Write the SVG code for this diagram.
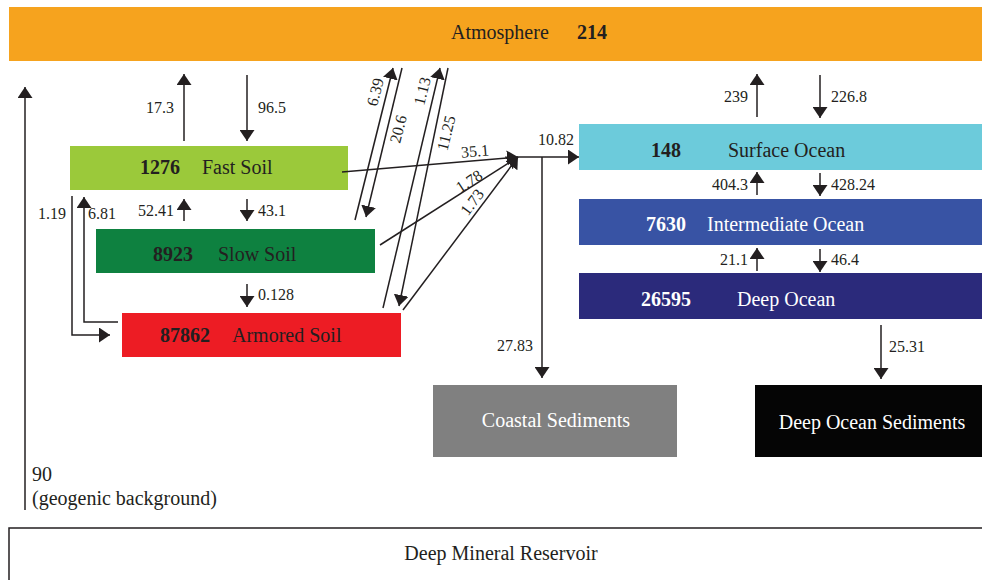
<svg xmlns="http://www.w3.org/2000/svg" width="982" height="580" viewBox="0 0 982 580">
  <defs>
    <marker id="head" viewBox="0 0 11 15" markerUnits="userSpaceOnUse" markerWidth="11" markerHeight="15" refX="11" refY="7.5" orient="auto">
      <path d="M0,0 L11,7.5 L0,15 z" fill="#231F20"/>
    </marker>
    <style>
      text { font-family: "Liberation Serif", "Times New Roman", serif; fill: #231F20; }
      .box { font-size: 20px; }
      .bold { font-weight: bold; }
      .white { fill: #FFFFFF; }
      .num { font-size: 16px; }
      .flow { stroke: #231F20; stroke-width: 1.5; fill: none; }
      .arrow { marker-end: url(#head); }
    </style>
  </defs>
  <rect width="982" height="580" fill="#FFFFFF"/>

  <g id="atmosphere">
    <rect x="9" y="7" width="973" height="54" fill="#F6A31E"/>
    <text class="box" x="451" y="39">Atmosphere</text>
    <text class="box bold" x="577" y="39">214</text>
  </g>

  <g id="fast-soil">
    <rect x="70" y="146" width="278" height="44" fill="#9BC93A"/>
    <text class="box bold" x="140" y="174">1276</text>
    <text class="box" x="202" y="174">Fast Soil</text>
  </g>

  <g id="slow-soil">
    <rect x="96" y="229" width="279" height="44" fill="#0E8140"/>
    <text class="box bold" x="153" y="261">8923</text>
    <text class="box" x="218" y="261">Slow Soil</text>
  </g>

  <g id="armored-soil">
    <rect x="122" y="313" width="279" height="44" fill="#ED1C24"/>
    <text class="box bold" x="160" y="342">87862</text>
    <text class="box" x="232" y="342">Armored Soil</text>
  </g>

  <g id="surface-ocean">
    <rect x="579" y="124" width="403" height="46" fill="#6CCBDB"/>
    <text class="box bold" x="651" y="157">148</text>
    <text class="box" x="728" y="157">Surface Ocean</text>
  </g>

  <g id="intermediate-ocean">
    <rect x="579" y="199" width="403" height="46" fill="#3853A4"/>
    <text class="box bold white" x="646" y="231">7630</text>
    <text class="box white" x="707" y="231">Intermediate Ocean</text>
  </g>

  <g id="deep-ocean">
    <rect x="579" y="273" width="403" height="46" fill="#2B2A7B"/>
    <text class="box bold white" x="641" y="306">26595</text>
    <text class="box white" x="737" y="306">Deep Ocean</text>
  </g>

  <g id="coastal-sediments">
    <rect x="433" y="385" width="244" height="72" fill="#808080"/>
    <text class="box white" x="556" y="427" text-anchor="middle">Coastal Sediments</text>
  </g>

  <g id="deep-ocean-sediments">
    <rect x="755" y="385" width="227" height="72" fill="#050505"/>
    <text class="box white" x="872" y="429" text-anchor="middle">Deep Ocean Sediments</text>
  </g>

  <g id="deep-mineral-reservoir">
    <rect x="9" y="528" width="990" height="70" fill="none" stroke="#231F20" stroke-width="1.5"/>
    <text class="box" x="501" y="560" text-anchor="middle">Deep Mineral Reservoir</text>
  </g>

  <g id="connectors">
    <!-- geogenic input -->
    <line class="flow arrow" x1="25" y1="510" x2="25" y2="87"/>
    <!-- fast soil / atmosphere -->
    <line class="flow arrow" x1="184" y1="141" x2="184" y2="74"/>
    <line class="flow arrow" x1="247" y1="75" x2="247" y2="141"/>
    <!-- fast soil / slow soil -->
    <line class="flow arrow" x1="184" y1="221" x2="184" y2="199"/>
    <line class="flow arrow" x1="247" y1="199" x2="247" y2="221"/>
    <!-- slow soil to armored soil -->
    <line class="flow arrow" x1="247" y1="284" x2="247" y2="307"/>
    <!-- fast soil / armored soil loop -->
    <polyline class="flow arrow" points="72,196 72,335 110,335"/>
    <polyline class="flow arrow" points="118,322 84,322 84,197"/>
    <!-- slow soil / atmosphere -->
    <line class="flow arrow" x1="355" y1="220" x2="393" y2="68"/>
    <line class="flow arrow" x1="402" y1="68" x2="366" y2="217"/>
    <!-- armored soil / atmosphere -->
    <line class="flow arrow" x1="383" y1="308" x2="440" y2="68"/>
    <line class="flow arrow" x1="448" y1="68" x2="399" y2="306"/>
    <!-- soil runoff to the river junction -->
    <line class="flow arrow" x1="342" y1="172" x2="518" y2="157"/>
    <line class="flow arrow" x1="380" y1="245" x2="518" y2="157"/>
    <line class="flow arrow" x1="403" y1="310" x2="518" y2="157"/>
    <line class="flow arrow" x1="518" y1="157" x2="579" y2="157"/>
    <line class="flow arrow" x1="542" y1="157" x2="542" y2="378"/>
    <!-- ocean exchanges -->
    <line class="flow arrow" x1="757" y1="117" x2="757" y2="74"/>
    <line class="flow arrow" x1="820" y1="75" x2="820" y2="118"/>
    <line class="flow arrow" x1="757" y1="195" x2="757" y2="172"/>
    <line class="flow arrow" x1="820" y1="173" x2="820" y2="196"/>
    <line class="flow arrow" x1="757" y1="271" x2="757" y2="248"/>
    <line class="flow arrow" x1="820" y1="249" x2="820" y2="272"/>
    <line class="flow arrow" x1="881" y1="325" x2="881" y2="379"/>
  </g>

  <g id="flow-labels" class="num">
    <text x="174" y="113" text-anchor="end">17.3</text>
    <text x="258" y="113">96.5</text>
    <text x="174" y="216" text-anchor="end">52.41</text>
    <text x="258" y="216">43.1</text>
    <text x="258" y="300">0.128</text>
    <text x="66" y="219" text-anchor="end">1.19</text>
    <text x="88" y="219">6.81</text>
    <text transform="translate(375,92) rotate(-76)" text-anchor="middle" dy="0.35em">6.39</text>
    <text transform="translate(398,129) rotate(-76)" text-anchor="middle" dy="0.35em">20.6</text>
    <text transform="translate(422,91) rotate(-76)" text-anchor="middle" dy="0.35em">1.13</text>
    <text transform="translate(446,133) rotate(-76)" text-anchor="middle" dy="0.35em">11.25</text>
    <text transform="translate(475,151) rotate(-5)" text-anchor="middle" dy="0.35em">35.1</text>
    <text transform="translate(469,181) rotate(-33)" text-anchor="middle" dy="0.35em">1.78</text>
    <text transform="translate(472,202) rotate(-53)" text-anchor="middle" dy="0.35em">1.73</text>
    <text x="556" y="145" text-anchor="middle">10.82</text>
    <text x="533" y="351" text-anchor="end">27.83</text>
    <text x="748" y="102" text-anchor="end">239</text>
    <text x="831" y="102">226.8</text>
    <text x="748" y="190" text-anchor="end">404.3</text>
    <text x="831" y="190">428.24</text>
    <text x="748" y="265" text-anchor="end">21.1</text>
    <text x="831" y="265">46.4</text>
    <text x="889" y="352">25.31</text>
  </g>

  <g id="geogenic-label" class="box">
    <text x="32" y="481">90</text>
    <text x="32" y="505">(geogenic background)</text>
  </g>
</svg>
